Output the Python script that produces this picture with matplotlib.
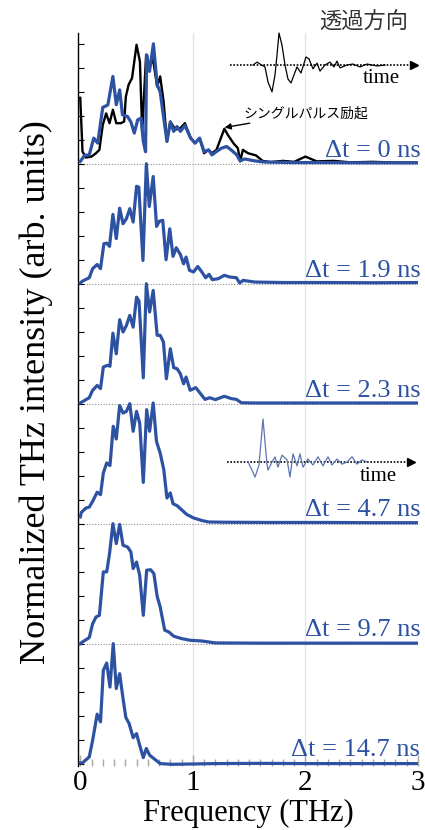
import numpy as np
import matplotlib
matplotlib.use("Agg")
import matplotlib.pyplot as plt

# spectra (freq in THz, intensity in tick units)
labels = ["Δt = 0 ns", "Δt = 1.9 ns", "Δt = 2.3 ns", "Δt = 4.7 ns", "Δt = 9.7 ns", "Δt = 14.7 ns"]

f_0 = [0.0, 0.04, 0.08, 0.12, 0.155, 0.2, 0.245, 0.29, 0.32, 0.35, 0.375, 0.42, 0.45, 0.48, 0.51, 0.54,
       0.56, 0.58, 0.59, 0.615, 0.65, 0.683, 0.71, 0.73, 0.77, 0.8, 0.83, 0.86, 0.89, 0.93, 0.98, 1.02,
       1.06, 1.1, 1.14, 1.17, 1.21, 1.255, 1.3, 1.34, 1.39, 1.42, 1.46, 1.55, 1.64, 1.9, 2.2, 2.5, 2.8, 3.0]
s_0 = [0.1, 0.35, 0.37, 1.07, 0.86, 2.35, 2.45, 3.64, 2.46, 3.08, 2.04, 1.97, 1.74, 1.28, 1.83, 1.9,
       0.93, 0.5, 4.54, 3.85, 5.0, 3.3, 3.0, 2.3, 0.93, 1.74, 1.35, 1.55, 1.35, 1.6, 1.07, 0.86,
       1.07, 0.51, 0.58, 0.37, 0.51, 0.65, 0.72, 0.58, 0.37, 0.12, 0.2, 0.12, 0.07, 0.05, 0.05, 0.04, 0.04, 0.04]

# single pulse excitation (black)
f_single = [0.0, 0.02, 0.05, 0.1, 0.14, 0.17, 0.2, 0.23, 0.26, 0.29, 0.32, 0.36, 0.39, 0.405, 0.43, 0.46,
            0.5, 0.53, 0.55, 0.585, 0.615, 0.645, 0.683, 0.71, 0.74, 0.77, 0.8, 0.845, 0.89, 0.93, 0.98,
            1.02, 1.06, 1.1, 1.14, 1.17, 1.21, 1.28, 1.31, 1.36, 1.4, 1.42, 1.445, 1.49, 1.56, 1.62, 1.69,
            1.8, 1.9, 2.0, 2.1, 2.25, 2.4, 2.6, 2.8, 3.0]
s_single = [2.75, 0.51, 0.26, 0.3, 0.44, 0.58, 1.62, 2.1, 1.69, 2.25, 1.69, 1.69, 1.76, 2.8, 3.3, 3.57,
            4.96, 4.26, 1.35, 4.54, 3.99, 4.4, 3.22, 3.64, 2.6, 0.93, 1.76, 1.42, 1.49, 1.69, 1.07,
            0.86, 1.07, 0.44, 0.58, 0.44, 0.58, 1.46, 1.21, 0.86, 0.65, 0.1, 0.58, 0.44, 0.35, 0.12, 0.07,
            0.12, 0.08, 0.3, 0.1, 0.12, 0.06, 0.08, 0.05, 0.05]

f_1 = [0.0, 0.02, 0.08, 0.11, 0.15, 0.18, 0.21, 0.235, 0.26, 0.29, 0.32, 0.35, 0.38, 0.41, 0.44, 0.47,
       0.5, 0.52, 0.557, 0.587, 0.613, 0.648, 0.678, 0.704, 0.733, 0.762, 0.795, 0.824, 0.853, 0.889,
       0.918, 0.94, 0.97, 1.006, 1.044, 1.08, 1.114, 1.144, 1.173, 1.226, 1.279, 1.328, 1.387, 1.416,
       1.446, 1.55, 1.8, 2.2, 2.6, 3.0]
s_1 = [0.03, 0.11, 0.25, 0.63, 0.8, 0.63, 1.67, 1.69, 1.56, 2.89, 1.88, 3.15, 2.5, 2.71, 3.13, 2.57,
       4.06, 4.03, 0.97, 5.0, 3.22, 4.47, 2.39, 2.61, 2.64, 1.0, 2.29, 1.14, 1.5, 1.22,
       0.83, 1.11, 0.56, 0.49, 0.72, 0.49, 0.25, 0.39, 0.17, 0.21, 0.35, 0.28, 0.25, 0.03,
       0.14, 0.07, 0.05, 0.05, 0.04, 0.05]

f_2 = [0.0, 0.08, 0.11, 0.15, 0.18, 0.205, 0.243, 0.264, 0.29, 0.32, 0.35, 0.38, 0.41, 0.44, 0.47,
       0.5, 0.522, 0.56, 0.587, 0.616, 0.648, 0.683, 0.71, 0.739, 0.765, 0.8, 0.83, 0.86, 0.889, 0.918,
       0.94, 0.976, 1.026, 1.056, 1.108, 1.15, 1.2, 1.28, 1.343, 1.387, 1.43, 1.55, 1.9, 2.3, 2.7, 3.0]
s_2 = [0.03, 0.25, 0.56, 0.76, 0.63, 1.53, 1.6, 1.56, 2.94, 2.08, 3.5, 2.99, 3.26, 3.68, 3.19,
       4.44, 4.28, 1.08, 5.0, 3.82, 4.72, 2.85, 2.85, 2.57, 1.04, 2.29, 1.5, 1.46, 1.25, 0.83,
       1.11, 0.56, 0.67, 0.49, 0.18, 0.25, 0.17, 0.31, 0.21, 0.18, 0.04, 0.03, 0.03, 0.03, 0.03, 0.03]

f_3 = [0.0, 0.01, 0.05, 0.08, 0.11, 0.15, 0.18, 0.205, 0.235, 0.264, 0.293, 0.32, 0.35, 0.38, 0.41,
       0.44, 0.47, 0.5, 0.528, 0.56, 0.59, 0.616, 0.648, 0.677, 0.71, 0.742, 0.77, 0.8, 0.824, 0.86,
       0.9, 0.947, 1.006, 1.08, 1.14, 1.28, 1.7, 2.2, 2.6, 3.0]
s_3 = [0.28, 0.47, 0.65, 0.69, 0.93, 1.31, 1.21, 2.11, 2.53, 2.42, 4.06, 3.53, 4.92, 4.61, 4.68,
       5.0, 3.85, 4.68, 4.19, 1.72, 4.75, 3.85, 5.03, 3.43, 2.94, 2.25, 1.07, 1.28, 0.83, 0.75,
       0.58, 0.38, 0.24, 0.13, 0.07, 0.06, 0.05, 0.05, 0.04, 0.04]

f_4 = [0.0, 0.02, 0.08, 0.11, 0.14, 0.17, 0.205, 0.235, 0.26, 0.29, 0.32, 0.35, 0.38, 0.42, 0.45,
       0.47, 0.5, 0.528, 0.56, 0.59, 0.625, 0.654, 0.683, 0.71, 0.75, 0.786, 0.83, 0.9, 0.976, 1.08,
       1.2, 1.6, 2.0, 2.5, 3.0]
s_4 = [0.0, 0.07, 0.25, 0.83, 1.11, 1.18, 2.99, 2.99, 3.75, 5.0, 4.17, 4.97, 4.1, 4.03, 3.82,
       3.13, 3.4, 2.85, 1.18, 3.06, 3.08, 2.92, 1.97, 1.53, 0.56, 0.49, 0.31, 0.21, 0.14, 0.11,
       0.03, 0.02, 0.02, 0.02, 0.02]

f_5 = [0.0, 0.02, 0.08, 0.11, 0.15, 0.18, 0.205, 0.235, 0.264, 0.293, 0.32, 0.35, 0.38, 0.405,
       0.434, 0.47, 0.5, 0.528, 0.56, 0.587, 0.616, 0.654, 0.71, 0.815, 1.2, 1.6, 2.0, 2.5, 3.0]
s_5 = [0.03, 0.03, 0.28, 0.97, 2.06, 1.74, 3.89, 4.19, 3.19, 5.0, 3.13, 3.75, 2.71, 1.92,
       1.67, 1.08, 1.25, 0.76, 0.25, 0.63, 0.35, 0.21, 0.0, -0.03, 0.0, 0.01, 0.0, 0.0, 0.0]

freqs = [f_0, f_1, f_2, f_3, f_4, f_5]
spectra = [s_0, s_1, s_2, s_3, s_4, s_5]
offsets = [25, 20, 15, 10, 5, 0]

# time-domain waveforms of the insets (ps, normalised)
t_single = [0.0, 0.4, 0.7, 1.2, 1.5, 1.9, 2.2, 2.4, 2.6, 2.9, 3.2, 3.5, 3.8, 4.1, 4.4, 4.8, 5.3,
            5.6, 6.0, 6.4, 6.7, 7.2, 7.7, 8.1, 8.4, 8.7, 9.4, 10.0, 10.7, 11.4, 12.4, 13.2]
w_single = [0.0, 0.09, 0.03, -0.06, -0.53, -0.84, -0.31, 0.31, 1.0, 0.62, 0.0, -0.44, -0.56, -0.31,
            -0.06, -0.25, 0.25, 0.19, -0.12, 0.06, -0.19, 0.0, 0.09, -0.06, 0.12, -0.09, 0.0, 0.03,
            -0.06, 0.03, -0.03, 0.0]

t_train = [0.0, 0.4, 0.7, 1.1, 1.3, 1.5, 1.7, 1.9, 2.0, 2.4, 2.7, 3.0, 3.4, 3.9, 4.2, 4.5, 4.9,
           5.2, 5.5, 6.0, 6.5, 7.0, 7.5, 8.0, 8.4, 8.9, 9.4, 9.9, 10.4, 10.9, 11.4, 11.9]
w_train = [0.0, -0.19, -0.35, -0.07, 0.47, 1.0, 0.47, -0.05, -0.19, 0.0, 0.12, -0.12, 0.16, 0.05,
           -0.35, 0.19, -0.09, 0.19, -0.12, 0.07, -0.07, 0.12, -0.09, 0.12, -0.07, 0.07, -0.05, 0.0,
           0.12, -0.05, 0.05, 0.0]

blue = "#2e52a2"
serif = "Liberation Serif"
jp = ["Noto Sans CJK JP", "DejaVu Sans"]

fig = plt.figure(figsize=(4.25, 8.3), dpi=100)
W, H = 425, 830
ax = fig.add_axes([78 / W, (H - 766) / H, 340 / W, 733 / H])

# light vertical grid lines
for g in [1, 2]:
    ax.axvline(g, color="#e6e6e6", lw=1.0, zorder=0)

# dotted base lines of the stacked panels
for off in offsets[:-1]:
    ax.axhline(off, color="#8a8a8a", lw=0.8, ls=(0, (1, 1.5)), zorder=1)

for fr, sp, off, lab in zip(freqs, spectra, offsets, labels):
    ax.plot(fr, np.array(sp) + off, color=blue, lw=2.3, zorder=3)
    ax.text(3.02, off + 0.3, lab, color=blue, fontsize=19, family=serif,
            ha="right", va="baseline", zorder=5)

ax.plot(f_single, np.array(s_single) + offsets[0], color="black", lw=1.7, zorder=2)

# annotation for the single pulse
ax.annotate("シングルパルス励起", xy=(1.27, offsets[0] + 1.5), xytext=(1.45, offsets[0] + 2.1),
            fontsize=10, family=jp, va="center", ha="left",
            arrowprops=dict(arrowstyle="-|>", color="black", lw=1.0, mutation_scale=9,
                            shrinkA=0, shrinkB=1))

ax.set_xlim(-0.02, 3.0)
ax.set_ylim(-0.1, 30.45)
ax.set_yticks(range(0, 31))
ax.set_yticklabels([])
ax.tick_params(axis="y", direction="in", length=4, width=0.8, color="black")
ax.set_xticks([0, 1, 2, 3])
ax.set_xticklabels(["0", "1", "2", "3"], family=serif, fontsize=21)
ax.set_xticks(np.arange(0, 3.01, 0.1), minor=True)
ax.tick_params(axis="x", which="major", direction="in", length=8, width=1.0, color="#a8a8a0", pad=3)
ax.tick_params(axis="x", which="minor", direction="in", length=5, width=1.0, color="#a8a8a0")
for s in ["top", "right", "bottom"]:
    ax.spines[s].set_visible(False)
ax.spines["left"].set_linewidth(1.0)

fig.text(36 / W, 1 - 392 / H, "Normalized THz intensity (arb. units)", rotation=90,
         family=serif, fontsize=26, ha="center", va="center")
fig.text(248 / W, 1 - 813 / H, "Frequency (THz)", family=serif, fontsize=22,
         ha="center", va="center")
fig.text(364 / W, 1 - 22 / H, "透過方向", family=jp, fontsize=16, color="#333333",
         ha="center", va="center")


def waveform_inset(rect, t, w, color, lw, xlim, ylim, tlab_x):
    a = fig.add_axes(rect)
    a.plot([xlim[0] + 0.2, xlim[1] - 0.4], [0, 0], color="black", lw=1.2, ls=(0, (1, 1)))
    a.plot(xlim[1] - 0.4, 0, marker=">", color="black", markersize=6)
    a.plot(t, w, color=color, lw=lw)
    a.text(tlab_x, -0.12, "time", family=serif, fontsize=15, ha="left", va="top")
    a.set_xlim(xlim)
    a.set_ylim(ylim)
    a.axis("off")
    return a


# top inset: single pulse
waveform_inset([228 / W, 1 - 105 / H, 190 / W, 80 / H], t_single, w_single, "black", 0.9,
               (-2.5, 16.5), (-1.25, 1.25), 11.0)
# lower inset: pulse train
waveform_inset([225 / W, 1 - 510 / H, 190 / W, 96 / H], t_train, w_train, "#5d74b2", 0.9,
               (-2.3, 16.7), (-1.116, 1.116), 11.2)

fig.savefig("out.png", dpi=100)
